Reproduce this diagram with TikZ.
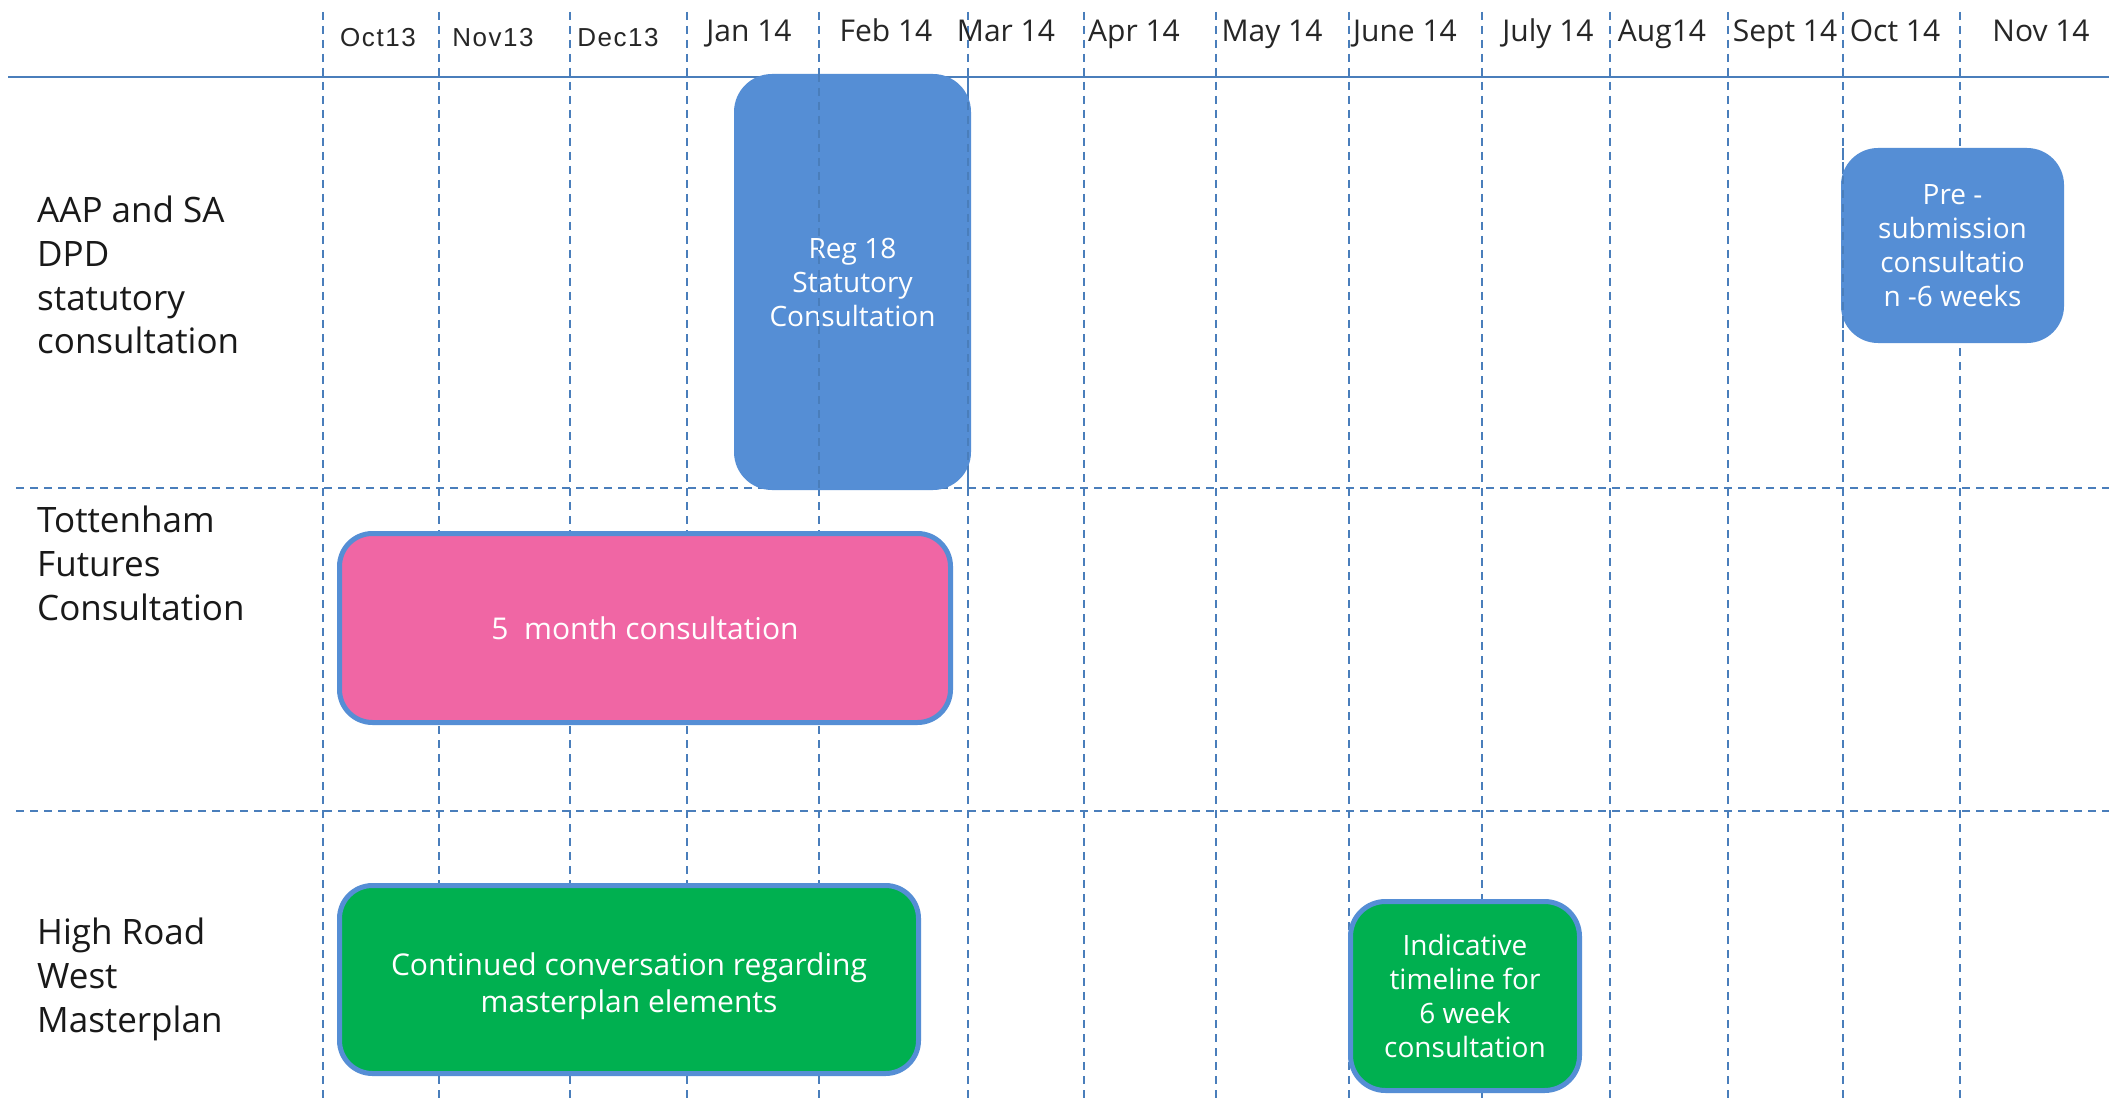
\documentclass[tikz,border=0pt]{standalone}
\usepackage{fontspec}
\setmainfont{Open Sans}
\newfontfamily\arialfont[LetterSpace=6]{Liberation Sans}
\definecolor{gridblue}{RGB}{74,126,187}
\definecolor{boxblue}{RGB}{85,142,213}
\definecolor{pinkfill}{RGB}{240,102,164}
\definecolor{greenfill}{RGB}{0,176,80}
\begin{document}
\begin{tikzpicture}[x=1pt,y=-1pt,
  gridline/.style={gridblue, line width=2.2pt, dash pattern=on 8pt off 6pt},
  headline/.style={gridblue, line width=2.5pt},
  month/.style={font=\fontsize{30}{36}\selectfont, anchor=base, inner sep=0, text=black!85},
  oldmonth/.style={font=\arialfont\fontsize{26}{30}\selectfont, anchor=base, inner sep=0, text=black!85},
  rowlabel/.style={font=\fontsize{35}{43.7}\selectfont, anchor=north west, align=left, inner sep=0, text=black!90},
  bar/.style={rounded corners=35pt, inner sep=0, text=white, align=center, font=\fontsize{28}{34}\selectfont},
  framed/.style={draw=boxblue, line width=5pt}
]
\useasboundingbox (0,0) rectangle (2120,1099);
\fill[white] (0,0) rectangle (2120,1099);

% header line
\coordinate (hl) at (8,77);
\coordinate (hr) at (2109,77);
\draw[headline] (hl) -- (hr);

% vertical grid lines
\foreach \x in {323,439,570,687,819,968,1084,1216,1349,1482,1610,1728,1843,1960}
  \draw[gridline] (\x,12) -- (\x,1099);

% horizontal row separators
\coordinate (r1l) at (16,488);
\coordinate (r1r) at (2109,488);
\coordinate (r2l) at (16,811);
\coordinate (r2r) at (2109,811);
\draw[gridline] (r1l) -- (r1r);
\draw[gridline] (r2l) -- (r2r);

% month labels
\node[oldmonth] (m1) at (378,47) {Oct13};
\node[oldmonth] (m2) at (493,47) {Nov13};
\node[oldmonth] (m3) at (618,47) {Dec13};
\node[month] (m4) at (749,42) {Jan 14};
\node[month] (m5) at (886,42) {Feb 14};
\node[month] (m6) at (1006,42) {Mar 14};
\node[month] (m7) at (1134,42) {Apr 14};
\node[month] (m8) at (1272,42) {May 14};
\node[month] (m9) at (1405,42) {June 14};
\node[month] (m10) at (1548,42) {July 14};
\node[month] (m11) at (1662,42) {Aug14};
\node[month] (m12) at (1785,42) {Sept 14};
\node[month] (m13) at (1895,42) {Oct 14};
\node[month] (m14) at (2041,42) {Nov 14};

% row labels
\node[rowlabel] (aap) at (37,196) {AAP and SA\\DPD\\statutory\\consultation};
\node[rowlabel] (tot) at (37,506) {Tottenham\\Futures\\Consultation};
\node[rowlabel] (hrw) at (37,918) {High Road\\West\\Masterplan};

% blue boxes
\node[bar, fill=boxblue, minimum width=237pt, minimum height=416pt, rounded corners=38pt] (reg) at (852.5,282) {Reg 18\\Statutory\\Consultation};
\node[bar, fill=boxblue, minimum width=223pt, minimum height=195pt, rounded corners=37pt] (pre) at (1952.5,245.5) {Pre -\\submission\\consultatio\\n -6 weeks};

% grid lines visible through the Reg 18 box
\draw[gridline] (819,74) -- (819,490);
\draw[gridline] (968,74) -- (968,490);
\draw[gridline] (1843,148) -- (1843,343);

% framed boxes
\node[bar, framed, fill=pinkfill, minimum width=611pt, minimum height=189pt, rounded corners=33pt, font=\fontsize{30}{36}\selectfont] (five) at (645,628) {5\ \ month consultation};
\node[bar, framed, fill=greenfill, minimum width=579pt, minimum height=188pt, rounded corners=33pt] (cont) at (629,979.5) {};
\node[bar, font=\fontsize{30}{37}\selectfont] (conttext) at ([yshift=-7pt]cont.center) {Continued conversation regarding\\masterplan elements};
\node[bar, framed, fill=greenfill, minimum width=229pt, minimum height=189pt, rounded corners=35pt] (ind) at (1465,996) {Indicative\\timeline for\\6 week\\consultation};
\end{tikzpicture}
\end{document}
